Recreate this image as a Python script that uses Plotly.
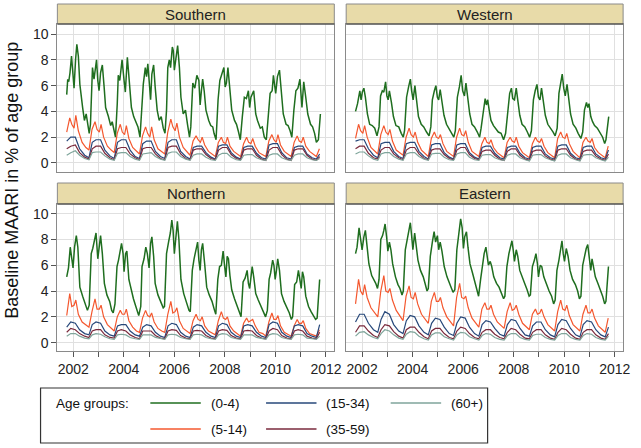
import plotly.graph_objects as go

W, H = 641, 448

# ---------------- axis / label data ----------------
year_ticks = [2002, 2003, 2004, 2005, 2006, 2007, 2008, 2009, 2010, 2011, 2012]
year_labels = ["2002", "", "2004", "", "2006", "", "2008", "", "2010", "", "2012"]
y_ticks = [0, 2, 4, 6, 8, 10]
panel_names = ["Southern", "Western", "Northern", "Eastern"]
age_groups = ["(0-4)", "(5-14)", "(15-34)", "(35-59)", "(60+)"]
age_colors = ["#1f6e1f", "#f4582f", "#27487a", "#7a2a3c", "#7fa59b"]

# shared sampling times for the (5-14) series
t_mid = [2001.74,
         2001.86, 2001.94, 2002.03, 2002.10, 2002.20, 2002.35, 2002.50, 2002.62, 2002.74,
         2002.86, 2002.94, 2003.03, 2003.10, 2003.20, 2003.35, 2003.50, 2003.62, 2003.74,
         2003.86, 2003.94, 2004.03, 2004.10, 2004.20, 2004.35, 2004.50, 2004.62, 2004.74,
         2004.86, 2004.94, 2005.03, 2005.10, 2005.20, 2005.35, 2005.50, 2005.62, 2005.74,
         2005.86, 2005.94, 2006.03, 2006.10, 2006.20, 2006.35, 2006.50, 2006.62, 2006.74,
         2006.86, 2006.94, 2007.03, 2007.10, 2007.20, 2007.35, 2007.50, 2007.62, 2007.74,
         2007.86, 2007.94, 2008.03, 2008.10, 2008.20, 2008.35, 2008.50, 2008.62, 2008.74,
         2008.86, 2008.94, 2009.03, 2009.10, 2009.20, 2009.35, 2009.50, 2009.62, 2009.74,
         2009.86, 2009.94, 2010.03, 2010.10, 2010.20, 2010.35, 2010.50, 2010.62, 2010.74,
         2010.86, 2010.94, 2011.03, 2011.10, 2011.20, 2011.35, 2011.50, 2011.62, 2011.74]

# shared sampling times for the adult series
t_low = [2001.74,
         2001.90, 2002.08, 2002.25, 2002.45, 2002.62, 2002.75,
         2002.90, 2003.08, 2003.25, 2003.45, 2003.62, 2003.75,
         2003.90, 2004.08, 2004.25, 2004.45, 2004.62, 2004.75,
         2004.90, 2005.08, 2005.25, 2005.45, 2005.62, 2005.75,
         2005.90, 2006.08, 2006.25, 2006.45, 2006.62, 2006.75,
         2006.90, 2007.08, 2007.25, 2007.45, 2007.62, 2007.75,
         2007.90, 2008.08, 2008.25, 2008.45, 2008.62, 2008.75,
         2008.90, 2009.08, 2009.25, 2009.45, 2009.62, 2009.75,
         2009.90, 2010.08, 2010.25, 2010.45, 2010.62, 2010.75,
         2010.90, 2011.08, 2011.25, 2011.45, 2011.62, 2011.75]

# ---------------- Southern ----------------
south_t_0_4 = [2001.74, 2001.78, 2001.82, 2001.87, 2001.93, 2001.97, 2002.03, 2002.09, 2002.14, 2002.20, 2002.26, 2002.37, 2002.44, 2002.51, 2002.58, 2002.63, 2002.68,
               2002.76, 2002.82, 2002.92, 2002.97, 2003.02, 2003.08, 2003.15, 2003.22, 2003.28, 2003.39, 2003.48, 2003.54, 2003.62, 2003.67,
               2003.74, 2003.78, 2003.84, 2003.93, 2004.01, 2004.06, 2004.14, 2004.22, 2004.30, 2004.39, 2004.48, 2004.56, 2004.64,
               2004.72, 2004.77, 2004.85, 2004.90, 2004.95, 2005.01, 2005.06, 2005.11, 2005.18, 2005.24, 2005.32, 2005.40, 2005.48, 2005.56, 2005.63,
               2005.69, 2005.74, 2005.80, 2005.85, 2005.92, 2005.96, 2006.00, 2006.05, 2006.13, 2006.20, 2006.26, 2006.35, 2006.44, 2006.52, 2006.60, 2006.65,
               2006.73, 2006.81, 2006.89, 2006.97, 2007.02, 2007.07, 2007.12, 2007.18, 2007.25, 2007.36, 2007.44, 2007.52, 2007.57, 2007.65,
               2007.73, 2007.80, 2007.88, 2007.96, 2008.01, 2008.06, 2008.12, 2008.20, 2008.27, 2008.38, 2008.46, 2008.54, 2008.61,
               2008.69, 2008.77, 2008.85, 2008.93, 2008.98, 2009.03, 2009.14, 2009.22, 2009.29, 2009.40, 2009.48, 2009.56, 2009.64,
               2009.71, 2009.79, 2009.87, 2009.92, 2010.01, 2010.08, 2010.16, 2010.24, 2010.31, 2010.42, 2010.50, 2010.58, 2010.65,
               2010.73, 2010.81, 2010.89, 2010.97, 2011.05, 2011.12, 2011.20, 2011.28, 2011.39, 2011.47, 2011.55, 2011.62, 2011.70, 2011.78]
south_v_0_4 = [5.3, 6.5, 6.3, 7.0, 8.3, 7.2, 5.8, 8.0, 9.2, 8.3, 6.1, 4.3, 3.3, 3.8, 2.8, 2.3, 3.0,
               7.4, 6.5, 8.0, 6.4, 5.6, 7.0, 7.6, 5.9, 4.3, 3.6, 2.9, 3.2, 2.3, 2.0,
               4.6, 6.8, 6.4, 8.0, 6.4, 5.5, 8.2, 6.4, 4.3, 3.6, 3.2, 2.8, 2.0,
               4.9, 6.1, 7.4, 6.7, 7.7, 5.9, 4.9, 6.9, 7.6, 5.9, 4.1, 3.3, 3.6, 2.7, 2.3,
               4.1, 7.4, 8.0, 7.4, 9.0, 8.7, 7.2, 8.0, 9.1, 7.4, 5.1, 3.8, 4.1, 3.0, 2.0, 2.8,
               6.2, 5.8, 6.8, 6.4, 4.5, 5.6, 6.5, 5.6, 4.1, 3.3, 2.9, 2.8, 2.3, 1.8,
               4.9, 6.4, 6.9, 7.4, 5.9, 6.2, 7.4, 5.6, 4.1, 3.3, 3.0, 2.4, 1.8,
               3.6, 5.1, 5.0, 5.6, 4.3, 5.1, 5.6, 3.8, 3.3, 2.7, 2.8, 2.0, 1.8,
               3.6, 5.4, 5.6, 6.8, 5.4, 6.7, 7.2, 5.4, 3.8, 3.0, 2.9, 2.5, 2.0,
               4.1, 5.6, 5.8, 6.5, 4.3, 6.3, 5.1, 3.8, 3.0, 2.8, 2.3, 1.6, 1.8, 3.8]
south_v_5_14 = [2.4,
                3.5, 3.0, 2.7, 3.7, 2.5, 1.6, 1.2, 1.0, 2.6,
                3.2, 2.6, 2.4, 3.0, 2.0, 1.3, 1.0, 0.8, 2.3,
                3.0, 2.4, 2.2, 2.9, 1.9, 1.2, 0.9, 0.7, 2.1,
                2.8, 2.3, 2.0, 2.8, 1.8, 1.1, 0.9, 0.7, 2.4,
                3.4, 2.8, 2.5, 3.1, 2.0, 1.2, 0.9, 0.6, 1.7,
                2.1, 1.8, 1.6, 2.0, 1.4, 0.9, 0.7, 0.5, 1.6,
                2.0, 1.6, 1.5, 2.0, 1.3, 0.9, 0.7, 0.5, 1.5,
                2.0, 1.6, 1.5, 1.9, 1.3, 0.8, 0.6, 0.5, 1.7,
                2.2, 1.8, 1.6, 2.2, 1.4, 0.9, 0.7, 0.5, 1.6,
                2.1, 1.7, 1.6, 2.0, 1.3, 0.9, 0.7, 0.5, 1.1]
south_v_15_34 = [1.7,
                 2.0, 2.0, 1.1, 0.6, 0.4, 1.6,
                 1.8, 1.8, 1.0, 0.55, 0.35, 1.6,
                 1.8, 1.8, 1.0, 0.5, 0.35, 1.5,
                 1.7, 1.7, 0.9, 0.5, 0.35, 1.6,
                 1.8, 1.8, 0.9, 0.5, 0.3, 1.2,
                 1.3, 1.3, 0.8, 0.45, 0.3, 1.3,
                 1.4, 1.4, 0.8, 0.45, 0.3, 1.2,
                 1.3, 1.3, 0.75, 0.4, 0.3, 1.4,
                 1.5, 1.5, 0.8, 0.4, 0.3, 1.2,
                 1.3, 1.3, 0.7, 0.4, 0.3, 0.7]
south_v_35_59 = [1.1,
                 1.3, 1.4, 0.8, 0.45, 0.3, 1.1,
                 1.3, 1.3, 0.75, 0.4, 0.25, 1.1,
                 1.2, 1.2, 0.7, 0.4, 0.25, 1.1,
                 1.2, 1.2, 0.7, 0.35, 0.25, 1.2,
                 1.3, 1.3, 0.7, 0.35, 0.25, 1.0,
                 1.1, 1.1, 0.65, 0.35, 0.25, 1.0,
                 1.2, 1.2, 0.65, 0.35, 0.25, 1.0,
                 1.1, 1.1, 0.6, 0.3, 0.2, 1.0,
                 1.2, 1.2, 0.65, 0.3, 0.2, 1.0,
                 1.1, 1.1, 0.6, 0.3, 0.2, 0.5]
south_v_60 = [0.6,
              0.8, 0.95, 0.6, 0.35, 0.25, 0.8,
              0.85, 0.85, 0.55, 0.3, 0.2, 0.75,
              0.8, 0.8, 0.5, 0.3, 0.2, 0.7,
              0.75, 0.8, 0.5, 0.3, 0.2, 0.75,
              0.85, 0.85, 0.5, 0.3, 0.2, 0.6,
              0.7, 0.7, 0.45, 0.25, 0.2, 0.6,
              0.75, 0.75, 0.45, 0.25, 0.2, 0.6,
              0.65, 0.65, 0.4, 0.25, 0.2, 0.6,
              0.7, 0.7, 0.4, 0.25, 0.2, 0.6,
              0.7, 0.7, 0.4, 0.25, 0.2, 0.35]

# ---------------- Western ----------------
west_t_0_4 = [2001.74, 2001.82, 2001.91, 2001.96, 2002.01, 2002.07, 2002.13, 2002.21, 2002.30, 2002.40, 2002.50, 2002.59, 2002.67,
              2002.73, 2002.80, 2002.86, 2002.93, 2002.98, 2003.03, 2003.08, 2003.16, 2003.24, 2003.34, 2003.45, 2003.55, 2003.63, 2003.68,
              2003.76, 2003.84, 2003.91, 2003.96, 2004.02, 2004.09, 2004.15, 2004.23, 2004.34, 2004.44, 2004.55, 2004.65, 2004.72,
              2004.78, 2004.86, 2004.92, 2004.98, 2005.03, 2005.09, 2005.16, 2005.24, 2005.34, 2005.43, 2005.54, 2005.63, 2005.69,
              2005.77, 2005.85, 2005.92, 2005.98, 2006.05, 2006.11, 2006.18, 2006.26, 2006.35, 2006.45, 2006.56, 2006.65, 2006.71,
              2006.79, 2006.87, 2006.92, 2006.97, 2007.03, 2007.10, 2007.20, 2007.29, 2007.39, 2007.50, 2007.60, 2007.68,
              2007.76, 2007.84, 2007.91, 2007.96, 2008.03, 2008.10, 2008.16, 2008.24, 2008.33, 2008.44, 2008.54, 2008.63, 2008.70,
              2008.78, 2008.85, 2008.92, 2008.98, 2009.04, 2009.10, 2009.17, 2009.25, 2009.35, 2009.46, 2009.56, 2009.64, 2009.72,
              2009.79, 2009.86, 2009.92, 2009.98, 2010.04, 2010.11, 2010.17, 2010.25, 2010.35, 2010.46, 2010.55, 2010.66, 2010.73,
              2010.80, 2010.88, 2010.93, 2010.98, 2011.05, 2011.12, 2011.20, 2011.31, 2011.41, 2011.52, 2011.60, 2011.65, 2011.76]
west_v_0_4 = [4.0, 4.6, 5.6, 4.9, 5.5, 5.8, 5.1, 3.8, 3.0, 2.9, 2.7, 2.1, 2.8,
              5.2, 5.6, 5.5, 6.3, 5.2, 4.9, 5.6, 4.7, 3.6, 2.9, 2.8, 2.3, 2.0, 2.5,
              5.1, 5.9, 6.5, 5.6, 4.9, 6.0, 4.9, 3.6, 3.0, 2.8, 2.4, 2.1, 2.8,
              4.9, 5.6, 6.0, 5.1, 4.9, 5.7, 4.9, 3.7, 3.0, 2.7, 2.4, 2.0, 2.5,
              5.1, 5.9, 6.8, 5.6, 5.2, 6.2, 5.1, 3.8, 3.0, 2.8, 2.4, 2.0, 2.7,
              4.1, 5.0, 4.5, 4.9, 4.1, 3.3, 2.9, 2.7, 2.4, 2.3, 1.8, 2.3,
              4.1, 5.4, 5.8, 5.0, 4.9, 5.8, 4.9, 3.7, 3.0, 2.8, 2.4, 2.0, 2.5,
              4.9, 5.6, 6.1, 5.1, 4.9, 5.8, 4.9, 3.7, 3.0, 2.7, 2.4, 2.1, 2.7,
              5.4, 6.1, 6.9, 5.8, 5.2, 6.1, 5.1, 3.8, 3.0, 2.7, 2.3, 1.9, 2.4,
              4.1, 4.7, 4.3, 4.6, 3.6, 3.2, 2.9, 2.7, 2.4, 2.0, 1.5, 1.8, 3.6]
west_v_5_14 = [1.9,
               3.0, 2.5, 2.3, 2.9, 2.0, 1.2, 0.9, 0.7, 2.2,
               2.9, 2.4, 2.2, 2.6, 1.7, 1.0, 0.8, 0.6, 2.0,
               2.7, 2.2, 2.0, 2.4, 1.6, 1.0, 0.7, 0.5, 1.9,
               2.4, 2.0, 1.9, 2.2, 1.5, 0.9, 0.7, 0.5, 2.0,
               2.7, 2.2, 2.1, 2.5, 1.6, 0.9, 0.7, 0.5, 1.5,
               2.0, 1.6, 1.5, 1.8, 1.2, 0.8, 0.6, 0.4, 1.6,
               2.0, 1.7, 1.6, 2.0, 1.3, 0.8, 0.6, 0.4, 1.5,
               2.0, 1.7, 1.6, 1.9, 1.3, 0.8, 0.6, 0.4, 1.9,
               2.4, 2.0, 1.9, 2.3, 1.5, 0.9, 0.6, 0.4, 1.6,
               2.0, 1.7, 1.6, 1.9, 1.2, 0.8, 0.6, 0.4, 1.3]
west_v_15_34 = [1.7,
                1.8, 1.8, 1.1, 0.6, 0.4, 1.5,
                1.6, 1.6, 0.9, 0.5, 0.35, 1.5,
                1.6, 1.6, 0.9, 0.5, 0.3, 1.4,
                1.5, 1.5, 0.8, 0.45, 0.3, 1.4,
                1.5, 1.5, 0.8, 0.45, 0.3, 1.2,
                1.3, 1.3, 0.75, 0.4, 0.3, 1.2,
                1.3, 1.3, 0.75, 0.4, 0.3, 1.2,
                1.3, 1.3, 0.7, 0.4, 0.3, 1.3,
                1.4, 1.4, 0.75, 0.4, 0.3, 1.2,
                1.3, 1.3, 0.7, 0.4, 0.3, 1.0]
west_v_35_59 = [1.1,
                1.3, 1.3, 0.75, 0.4, 0.3, 1.0,
                1.2, 1.2, 0.7, 0.4, 0.25, 1.0,
                1.2, 1.2, 0.7, 0.35, 0.25, 1.0,
                1.1, 1.1, 0.65, 0.35, 0.25, 1.0,
                1.2, 1.2, 0.65, 0.35, 0.25, 0.9,
                1.0, 1.0, 0.6, 0.3, 0.2, 0.9,
                1.1, 1.1, 0.6, 0.3, 0.2, 0.9,
                1.0, 1.0, 0.55, 0.3, 0.2, 1.0,
                1.1, 1.1, 0.6, 0.3, 0.2, 0.9,
                1.0, 1.0, 0.55, 0.3, 0.2, 0.7]
west_v_60 = [0.7,
             0.85, 0.85, 0.55, 0.3, 0.2, 0.7,
             0.8, 0.8, 0.5, 0.3, 0.2, 0.7,
             0.8, 0.8, 0.5, 0.3, 0.2, 0.7,
             0.75, 0.75, 0.45, 0.25, 0.2, 0.7,
             0.8, 0.8, 0.45, 0.25, 0.2, 0.6,
             0.65, 0.65, 0.4, 0.25, 0.2, 0.6,
             0.7, 0.7, 0.4, 0.25, 0.15, 0.6,
             0.65, 0.65, 0.4, 0.25, 0.15, 0.6,
             0.7, 0.7, 0.4, 0.25, 0.15, 0.6,
             0.65, 0.65, 0.4, 0.25, 0.15, 0.45]

# ---------------- Northern ----------------
north_t_0_4 = [2001.74, 2001.81, 2001.88, 2001.93, 2001.99, 2002.05, 2002.12, 2002.18, 2002.26, 2002.37, 2002.47, 2002.56, 2002.63,
               2002.71, 2002.77, 2002.85, 2002.90, 2002.97, 2003.02, 2003.08, 2003.15, 2003.23, 2003.33, 2003.44, 2003.52, 2003.58, 2003.65,
               2003.73, 2003.79, 2003.86, 2003.91, 2003.97, 2004.01, 2004.07, 2004.12, 2004.20, 2004.28, 2004.38, 2004.46, 2004.54, 2004.59, 2004.67,
               2004.72, 2004.80, 2004.87, 2004.93, 2005.00, 2005.06, 2005.11, 2005.18, 2005.24, 2005.35, 2005.45, 2005.56, 2005.61,
               2005.69, 2005.77, 2005.84, 2005.90, 2005.95, 2006.00, 2006.05, 2006.12, 2006.18, 2006.26, 2006.37, 2006.47, 2006.58, 2006.63,
               2006.71, 2006.78, 2006.86, 2006.92, 2006.97, 2007.02, 2007.07, 2007.12, 2007.20, 2007.28, 2007.38, 2007.49, 2007.59, 2007.64,
               2007.72, 2007.79, 2007.86, 2007.93, 2007.99, 2008.04, 2008.09, 2008.14, 2008.20, 2008.27, 2008.38, 2008.48, 2008.59, 2008.64,
               2008.72, 2008.80, 2008.88, 2008.93, 2008.98, 2009.03, 2009.08, 2009.14, 2009.22, 2009.32, 2009.42, 2009.53, 2009.61, 2009.68,
               2009.75, 2009.81, 2009.89, 2009.94, 2009.99, 2010.04, 2010.09, 2010.16, 2010.24, 2010.34, 2010.44, 2010.55, 2010.63, 2010.68,
               2010.76, 2010.84, 2010.91, 2010.97, 2011.02, 2011.07, 2011.12, 2011.20, 2011.31, 2011.41, 2011.52, 2011.59, 2011.65, 2011.75]
north_v_0_4 = [5.1, 5.8, 7.4, 6.7, 5.8, 7.4, 8.3, 7.4, 4.3, 3.6, 3.0, 2.5, 2.9,
               6.9, 7.3, 8.2, 8.5, 6.5, 7.2, 8.3, 6.9, 4.6, 3.7, 3.2, 2.5, 2.3, 3.0,
               5.9, 6.4, 7.2, 7.7, 6.9, 5.5, 6.9, 7.1, 4.9, 4.1, 3.4, 2.9, 2.4, 2.1, 2.8,
               5.9, 6.5, 7.4, 6.9, 5.8, 7.7, 8.2, 6.7, 4.6, 3.7, 3.2, 2.7, 2.8,
               6.9, 7.8, 8.5, 9.5, 8.7, 6.9, 8.2, 9.4, 8.0, 4.9, 3.8, 3.2, 2.5, 2.4,
               5.6, 6.5, 7.2, 7.8, 6.4, 5.6, 7.2, 7.7, 6.1, 4.3, 3.7, 3.2, 2.5, 2.2,
               4.9, 5.9, 6.0, 7.1, 5.9, 5.1, 6.7, 6.5, 5.2, 4.1, 3.4, 2.9, 2.3, 2.0,
               4.7, 5.0, 5.6, 4.6, 4.2, 5.4, 5.9, 5.1, 3.8, 3.3, 2.8, 2.4, 2.0, 2.5,
               4.9, 5.4, 6.4, 6.0, 4.9, 5.6, 6.5, 5.6, 3.8, 3.2, 2.8, 2.3, 1.8, 2.0,
               4.5, 4.7, 5.6, 4.9, 4.2, 5.5, 5.1, 3.6, 2.8, 2.4, 2.0, 1.8, 1.9, 4.9]
north_v_5_14 = [2.1,
                3.8, 2.8, 2.9, 3.3, 2.2, 1.6, 1.4, 1.2, 2.4,
                3.4, 2.6, 2.6, 2.9, 2.0, 1.4, 1.1, 0.9, 2.0,
                2.5, 2.2, 2.2, 2.6, 1.7, 1.2, 0.9, 0.8, 1.9,
                2.5, 2.1, 2.0, 2.3, 1.6, 1.1, 0.9, 0.8, 2.2,
                3.2, 2.3, 2.4, 2.7, 1.7, 1.1, 0.9, 0.7, 1.7,
                2.2, 1.8, 1.7, 2.0, 1.3, 0.9, 0.7, 0.6, 1.7,
                2.4, 1.9, 1.8, 2.0, 1.3, 0.9, 0.7, 0.5, 1.5,
                1.9, 1.6, 1.7, 1.8, 1.3, 0.8, 0.7, 0.5, 1.6,
                2.3, 1.8, 1.8, 2.1, 1.3, 0.8, 0.6, 0.5, 1.3,
                1.8, 1.5, 1.5, 1.7, 1.1, 0.7, 0.6, 0.5, 1.0]
north_v_15_34 = [1.2,
                 1.6, 1.5, 1.0, 0.7, 0.6, 1.4,
                 1.6, 1.5, 0.9, 0.6, 0.5, 1.3,
                 1.4, 1.4, 0.9, 0.6, 0.5, 1.2,
                 1.4, 1.3, 0.8, 0.5, 0.4, 1.3,
                 1.5, 1.4, 0.8, 0.5, 0.4, 1.2,
                 1.4, 1.3, 0.8, 0.5, 0.4, 1.3,
                 1.5, 1.4, 0.8, 0.5, 0.4, 1.3,
                 1.4, 1.3, 0.8, 0.5, 0.4, 1.4,
                 1.6, 1.5, 0.8, 0.5, 0.4, 1.3,
                 1.4, 1.3, 0.7, 0.5, 0.4, 1.4]
north_v_35_59 = [0.8,
                 1.1, 1.0, 0.7, 0.5, 0.4, 0.9,
                 1.0, 1.0, 0.6, 0.4, 0.35, 0.9,
                 1.0, 0.9, 0.6, 0.4, 0.3, 0.9,
                 0.9, 0.9, 0.55, 0.35, 0.3, 0.9,
                 1.0, 0.95, 0.55, 0.35, 0.3, 0.9,
                 0.95, 0.9, 0.55, 0.35, 0.3, 0.9,
                 1.0, 0.95, 0.55, 0.35, 0.3, 0.9,
                 0.95, 0.9, 0.55, 0.35, 0.3, 0.9,
                 1.1, 1.0, 0.55, 0.35, 0.3, 0.9,
                 1.0, 0.9, 0.5, 0.35, 0.3, 0.8]
north_v_60 = [0.5,
              0.7, 0.7, 0.5, 0.35, 0.3, 0.6,
              0.7, 0.65, 0.45, 0.3, 0.25, 0.6,
              0.65, 0.6, 0.4, 0.3, 0.25, 0.6,
              0.6, 0.6, 0.4, 0.3, 0.25, 0.6,
              0.65, 0.6, 0.4, 0.3, 0.25, 0.6,
              0.65, 0.6, 0.4, 0.3, 0.25, 0.6,
              0.7, 0.65, 0.4, 0.3, 0.25, 0.6,
              0.6, 0.6, 0.4, 0.3, 0.25, 0.6,
              0.7, 0.65, 0.4, 0.3, 0.25, 0.6,
              0.65, 0.6, 0.35, 0.3, 0.25, 0.5]

# ---------------- Eastern ----------------
east_t_0_4 = [2001.74, 2001.80, 2001.88, 2001.93, 2002.00, 2002.07, 2002.13, 2002.20, 2002.27, 2002.38, 2002.46, 2002.54, 2002.61, 2002.67,
              2002.74, 2002.81, 2002.86, 2002.91, 2002.97, 2003.02, 2003.08, 2003.14, 2003.21, 2003.32, 2003.42, 2003.50, 2003.58, 2003.63,
              2003.71, 2003.78, 2003.84, 2003.91, 2003.96, 2004.01, 2004.08, 2004.13, 2004.21, 2004.31, 2004.42, 2004.49, 2004.57, 2004.62,
              2004.70, 2004.78, 2004.85, 2004.91, 2004.98, 2005.03, 2005.09, 2005.16, 2005.25, 2005.36, 2005.46, 2005.54, 2005.60, 2005.67,
              2005.75, 2005.82, 2005.90, 2005.96, 2006.01, 2006.06, 2006.13, 2006.19, 2006.27, 2006.37, 2006.48, 2006.56, 2006.61,
              2006.69, 2006.76, 2006.83, 2006.90, 2006.95, 2007.00, 2007.07, 2007.13, 2007.21, 2007.32, 2007.42, 2007.52, 2007.60, 2007.65,
              2007.73, 2007.81, 2007.87, 2007.93, 2007.98, 2008.03, 2008.10, 2008.16, 2008.24, 2008.34, 2008.45, 2008.53, 2008.61, 2008.66,
              2008.74, 2008.82, 2008.88, 2008.94, 2008.98, 2009.05, 2009.11, 2009.19, 2009.29, 2009.40, 2009.50, 2009.58, 2009.64,
              2009.71, 2009.79, 2009.86, 2009.91, 2009.96, 2010.01, 2010.08, 2010.15, 2010.23, 2010.33, 2010.44, 2010.53, 2010.60, 2010.66,
              2010.73, 2010.81, 2010.87, 2010.93, 2010.98, 2011.05, 2011.10, 2011.15, 2011.23, 2011.33, 2011.44, 2011.52, 2011.60, 2011.65, 2011.75]
east_v_0_4 = [6.9, 7.4, 8.9, 8.3, 7.2, 8.2, 8.7, 7.4, 6.1, 5.2, 4.9, 4.6, 4.2, 4.9,
              8.0, 8.3, 8.7, 9.2, 8.2, 7.1, 7.8, 7.2, 6.1, 5.1, 4.5, 4.2, 3.7, 4.0,
              7.2, 8.0, 8.5, 9.3, 8.3, 7.2, 8.5, 7.8, 6.4, 5.6, 5.1, 4.6, 4.0, 4.2,
              6.7, 7.8, 8.6, 7.8, 8.3, 7.2, 7.8, 7.1, 5.9, 5.1, 4.5, 4.2, 3.9, 4.1,
              7.2, 8.2, 9.6, 8.9, 7.3, 8.2, 8.6, 7.4, 6.1, 5.4, 4.6, 3.8, 3.6,
              4.9, 6.1, 6.9, 7.4, 6.7, 6.0, 6.3, 5.9, 5.1, 4.6, 4.3, 3.8, 3.4, 3.6,
              5.9, 6.9, 7.3, 7.9, 7.2, 6.3, 7.2, 6.7, 5.6, 5.0, 4.5, 4.1, 3.6, 3.7,
              5.9, 6.4, 6.9, 6.1, 5.1, 6.0, 5.9, 5.1, 4.5, 4.0, 3.6, 3.0, 3.3,
              5.6, 6.4, 7.2, 7.9, 6.9, 6.3, 7.3, 6.7, 5.6, 4.9, 4.5, 4.0, 3.4, 3.6,
              6.0, 6.9, 7.3, 7.6, 6.7, 5.6, 6.5, 6.0, 5.1, 4.6, 4.1, 3.6, 3.0, 3.2, 5.9]
east_v_5_14 = [3.0,
               4.9, 4.0, 3.7, 4.5, 3.5, 2.7, 2.3, 2.0, 4.0,
               5.2, 4.0, 3.9, 4.2, 3.3, 2.5, 2.0, 1.7, 3.6,
               4.4, 3.5, 3.4, 3.9, 3.0, 2.2, 1.8, 1.5, 3.2,
               3.9, 3.2, 3.2, 3.5, 2.7, 2.0, 1.6, 1.3, 3.5,
               4.6, 3.5, 3.4, 3.6, 2.7, 1.9, 1.5, 1.2, 2.6,
               3.1, 2.6, 2.6, 2.9, 2.2, 1.6, 1.3, 1.1, 2.4,
               3.1, 2.5, 2.6, 2.9, 2.2, 1.5, 1.2, 1.0, 2.2,
               2.6, 2.2, 2.3, 2.6, 2.0, 1.4, 1.1, 0.9, 2.4,
               3.3, 2.6, 2.5, 2.9, 2.1, 1.4, 1.1, 0.9, 2.2,
               2.9, 2.3, 2.3, 2.6, 1.9, 1.3, 1.0, 0.8, 1.9]
east_v_15_34 = [1.6,
                2.2, 2.2, 1.5, 1.0, 0.8, 1.8,
                2.4, 2.2, 1.4, 0.9, 0.7, 1.7,
                2.1, 2.0, 1.3, 0.8, 0.6, 1.5,
                1.9, 1.8, 1.2, 0.7, 0.55, 1.5,
                2.0, 1.9, 1.2, 0.7, 0.5, 1.4,
                1.7, 1.6, 1.1, 0.65, 0.5, 1.4,
                1.8, 1.7, 1.1, 0.6, 0.5, 1.3,
                1.6, 1.6, 1.0, 0.6, 0.45, 1.4,
                1.8, 1.7, 1.1, 0.6, 0.45, 1.4,
                1.7, 1.6, 1.0, 0.6, 0.45, 1.2]
east_v_35_59 = [0.8,
                1.3, 1.3, 0.9, 0.55, 0.4, 1.0,
                1.4, 1.3, 0.85, 0.5, 0.35, 1.0,
                1.2, 1.2, 0.8, 0.45, 0.3, 0.9,
                1.1, 1.1, 0.7, 0.4, 0.3, 0.9,
                1.2, 1.1, 0.7, 0.4, 0.3, 0.8,
                1.0, 1.0, 0.65, 0.4, 0.3, 0.8,
                1.1, 1.0, 0.65, 0.35, 0.3, 0.8,
                1.0, 1.0, 0.6, 0.35, 0.25, 0.8,
                1.1, 1.0, 0.65, 0.35, 0.25, 0.8,
                1.0, 1.0, 0.6, 0.35, 0.25, 0.7]
east_v_60 = [0.5,
             0.8, 0.85, 0.6, 0.4, 0.3, 0.7,
             1.0, 0.9, 0.6, 0.35, 0.25, 0.65,
             0.85, 0.8, 0.5, 0.3, 0.2, 0.6,
             0.75, 0.75, 0.45, 0.3, 0.2, 0.6,
             0.8, 0.75, 0.45, 0.3, 0.2, 0.55,
             0.7, 0.65, 0.4, 0.25, 0.2, 0.55,
             0.7, 0.7, 0.4, 0.25, 0.2, 0.55,
             0.65, 0.65, 0.4, 0.25, 0.2, 0.55,
             0.7, 0.7, 0.4, 0.25, 0.2, 0.55,
             0.7, 0.65, 0.4, 0.25, 0.2, 0.5]

panel_series = [
    (south_t_0_4, south_v_0_4, south_v_5_14, south_v_15_34, south_v_35_59, south_v_60),
    (west_t_0_4, west_v_0_4, west_v_5_14, west_v_15_34, west_v_35_59, west_v_60),
    (north_t_0_4, north_v_0_4, north_v_5_14, north_v_15_34, north_v_35_59, north_v_60),
    (east_t_0_4, east_v_0_4, east_v_5_14, east_v_15_34, east_v_35_59, east_v_60),
]

for ps in panel_series:
    assert len(ps[0]) == len(ps[1]), (len(ps[0]), len(ps[1]))
    assert len(ps[2]) == len(t_mid), len(ps[2])
    for s in ps[3:]:
        assert len(s) == len(t_low), len(s)

# ---------------- layout geometry (pixels) ----------------
FONT = "Liberation Sans, Arial, sans-serif"
col_px = [(58, 338), (350, 630)]
row_px = [(24, 172), (204, 351)]       # plot areas (top, bottom) in px from top
strip_px = [(4, 24), (183, 204)]
y_ranges = [[-0.70, 10.78], [-0.65, 10.75]]
x_range = [2001.37, 2012.33]


def fx(px):
    return px / W


def fy(py):
    return 1 - py / H


fig = go.Figure()
layout = dict(
    width=W, height=H,
    margin=dict(l=0, r=0, t=0, b=0),
    paper_bgcolor="white", plot_bgcolor="white",
    showlegend=False,
    font=dict(family=FONT, size=14, color="#222222"),
)
shapes = []
annotations = []

for i, name in enumerate(panel_names):
    r, c = divmod(i, 2)
    ax_id = "" if i == 0 else str(i + 1)
    xa = "xaxis" + ax_id
    ya = "yaxis" + ax_id
    x0, x1 = col_px[c]
    ytop, ybot = row_px[r]
    layout[xa] = dict(
        domain=[fx(x0), fx(x1)], anchor="y" + ax_id, range=x_range,
        tickvals=year_ticks, ticktext=year_labels,
        showgrid=True, gridcolor="#e0e0e0", gridwidth=1, zeroline=False,
        showline=True, linecolor="#8a8a8a", linewidth=1, mirror=True,
        ticks="outside" if r == 1 else "", ticklen=5, tickcolor="#555555",
        showticklabels=(r == 1), tickfont=dict(size=14, family=FONT, color="#222222"),
    )
    layout[ya] = dict(
        domain=[fy(ybot), fy(ytop)], anchor="x" + ax_id, range=y_ranges[r],
        tickvals=y_ticks,
        showgrid=True, gridcolor="#e0e0e0", gridwidth=1, zeroline=False,
        showline=True, linecolor="#8a8a8a", linewidth=1, mirror=True,
        ticks="outside" if c == 0 else "", ticklen=5, tickcolor="#555555",
        showticklabels=(c == 0), tickfont=dict(size=14, family=FONT, color="#222222"),
    )
    # strip header
    s0, s1 = strip_px[r]
    shapes.append(dict(type="rect", xref="paper", yref="paper",
                       x0=fx(x0), x1=fx(x1), y0=fy(s1), y1=fy(s0),
                       fillcolor="#e8dba9", line=dict(color="#8a8a8a", width=1), layer="above"))
    shapes.append(dict(type="line", xref="paper", yref="paper",
                       x0=fx(x0), x1=fx(x1), y0=fy(s1), y1=fy(s1),
                       line=dict(color="#333333", width=1.2), layer="above"))
    annotations.append(dict(text=name, xref="paper", yref="paper",
                            x=fx((x0 + x1) / 2), y=fy((s0 + s1) / 2),
                            showarrow=False, xanchor="center", yanchor="middle",
                            font=dict(family=FONT, size=15, color="#222222")))

    t04, v04, v514, v1534, v3559, v60 = panel_series[i]
    series = [(t04, v04), (t_mid, v514), (t_low, v1534), (t_low, v3559), (t_low, v60)]
    for k, (tx, vy) in enumerate(series):
        fig.add_trace(go.Scatter(
            x=tx, y=vy, mode="lines", name=age_groups[k],
            line=dict(color=age_colors[k], width=1.5 if k == 0 else 1.2),
            xaxis="x" + ax_id, yaxis="y" + ax_id, hoverinfo="skip",
        ))

# y-axis title
annotations.append(dict(text="Baseline MAARI in % of age group", xref="paper", yref="paper",
                        x=fx(12), y=fy(180), textangle=-90, showarrow=False,
                        xanchor="center", yanchor="middle",
                        font=dict(family=FONT, size=18, color="#111111")))

# legend box (drawn manually to reproduce the 3-column layout)
shapes.append(dict(type="rect", xref="paper", yref="paper",
                   x0=fx(41), x1=fx(493), y0=fy(443), y1=fy(388),
                   fillcolor="white", line=dict(color="#333333", width=1.2)))
annotations.append(dict(text="Age groups:", xref="paper", yref="paper",
                        x=fx(55), y=fy(403), showarrow=False, xanchor="left", yanchor="middle",
                        font=dict(family=FONT, size=13.5, color="#111111")))
legend_slots = [(152, 403), (152, 429), (269, 403), (269, 429), (395, 403)]
for k, (lx, ly) in enumerate(legend_slots):
    shapes.append(dict(type="line", xref="paper", yref="paper",
                       x0=fx(lx), x1=fx(lx + 51), y0=fy(ly), y1=fy(ly),
                       line=dict(color=age_colors[k], width=1.5)))
    annotations.append(dict(text=age_groups[k], xref="paper", yref="paper",
                            x=fx(lx + 59), y=fy(ly), showarrow=False,
                            xanchor="left", yanchor="middle",
                            font=dict(family=FONT, size=13.5, color="#111111")))

layout["shapes"] = shapes
layout["annotations"] = annotations
fig.update_layout(**layout)
fig.write_html(
    "out.html",
    config={"displayModeBar": False},
    post_script="document.body.style.margin='0';document.body.style.padding='0';document.body.style.overflow='hidden';",
)
